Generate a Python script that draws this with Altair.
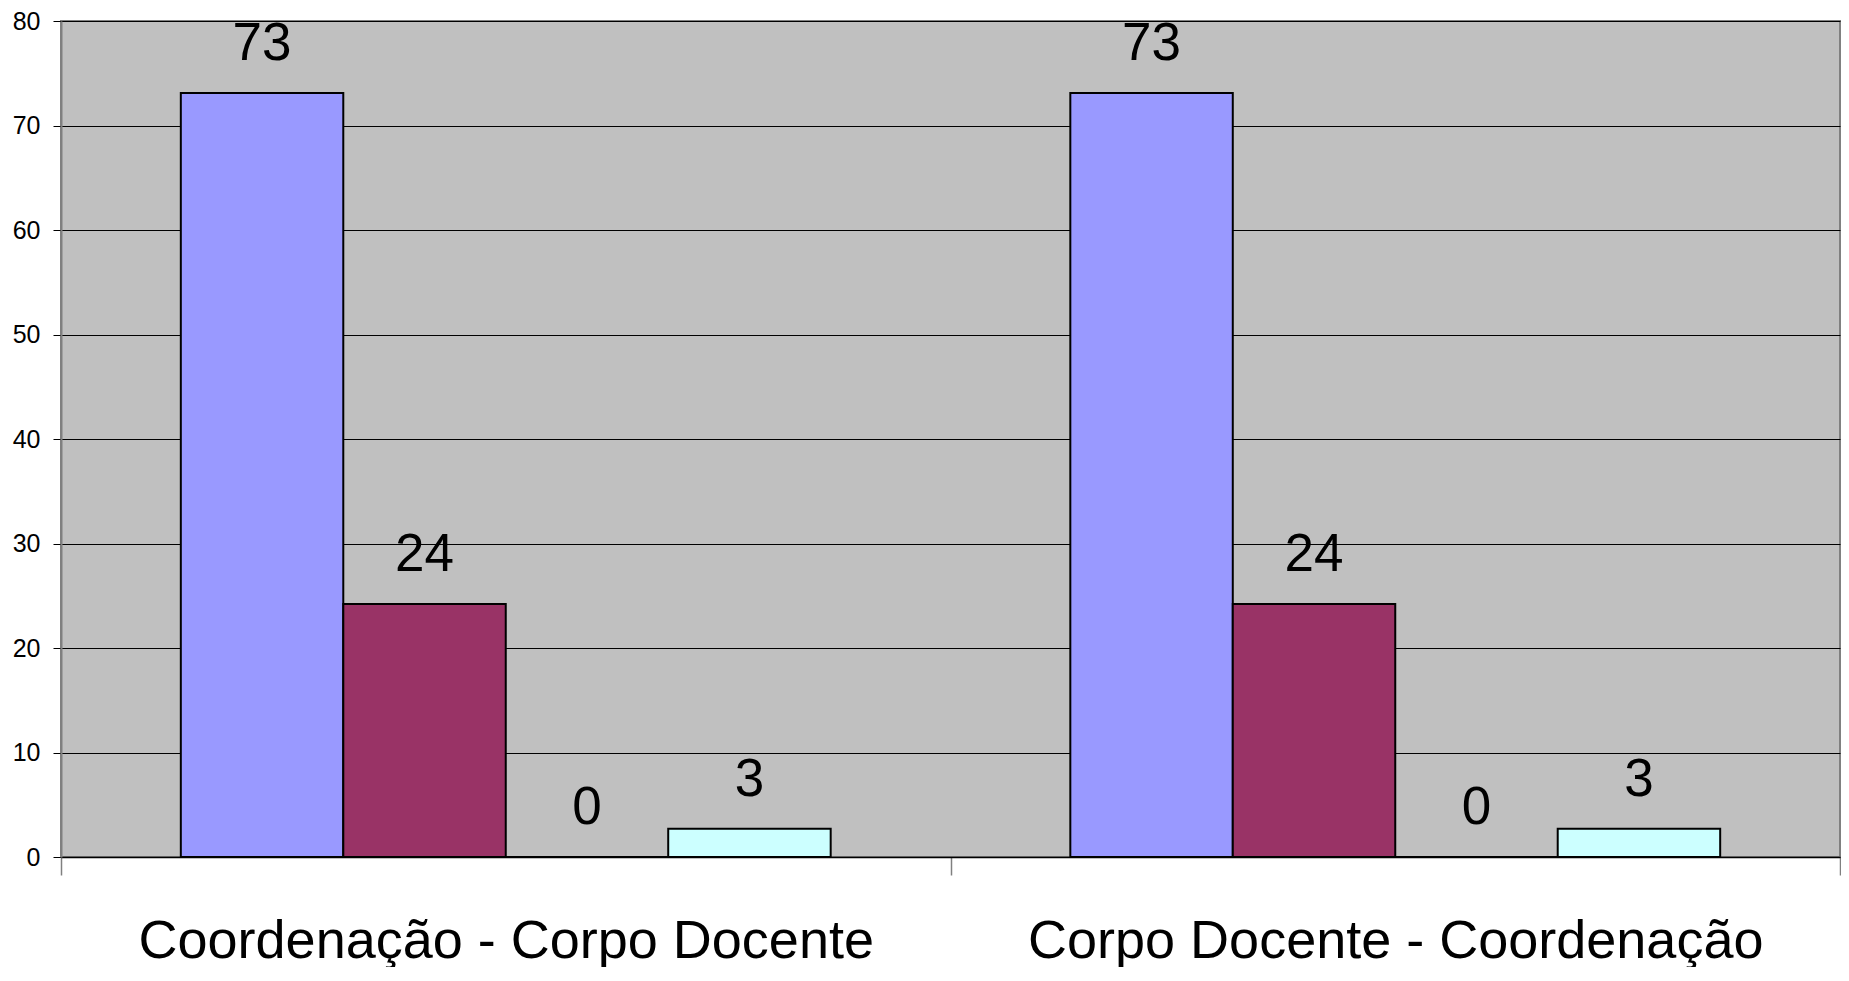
import altair as alt
import pandas as pd

categories = ["Coordenação - Corpo Docente", "Corpo Docente - Coordenação"]
series = ["Série 1", "Série 2", "Série 3", "Série 4"]
values_group1 = [73.1, 24.2, 0.0, 2.7]
values_group2 = [73.1, 24.2, 0.0, 2.7]
colors = ["#9999FF", "#993366", "#FFFFCC", "#CCFFFF"]

rows = []
for cat, vals in zip(categories, [values_group1, values_group2]):
    for s, v in zip(series, vals):
        rows.append({"categoria": cat, "serie": s, "valor": v})
df = pd.DataFrame(rows)

FONT = "Liberation Sans"

x = alt.X(
    "categoria:N",
    sort=categories,
    scale=alt.Scale(paddingInner=0, paddingOuter=0),
    axis=alt.Axis(
        title=None,
        labelAngle=0,
        labelFontSize=54,
        labelFont=FONT,
        labelColor="black",
        labelBaseline="alphabetic",
        labelPadding=82,
        labelLimit=0,
        tickBand="extent",
        tickSize=18,
        tickColor="#808080",
        tickWidth=1.5,
        domainColor="black",
        domainWidth=1.5,
        grid=False,
    ),
)
xo = alt.XOffset(
    "serie:N",
    sort=series,
    scale=alt.Scale(paddingInner=0, paddingOuter=0.7375),
)
y = alt.Y(
    "valor:Q",
    scale=alt.Scale(domain=[0, 80], nice=False),
    axis=alt.Axis(
        title=None,
        values=[0, 10, 20, 30, 40, 50, 60, 70, 80],
        labelFontSize=25,
        labelFont=FONT,
        labelColor="black",
        labelPadding=13,
        tickSize=8,
        tickColor="black",
        domainColor="#808080",
        domainWidth=2,
        grid=True,
        gridColor="black",
        gridWidth=1,
        gridOpacity=1,
    ),
)

bars = alt.Chart(df).mark_bar(stroke="black", strokeWidth=2).encode(
    x=x,
    xOffset=xo,
    y=y,
    color=alt.Color("serie:N", sort=series,
                    scale=alt.Scale(domain=series, range=colors), legend=None),
)

labels = alt.Chart(df).mark_text(
    baseline="alphabetic", dy=-33, fontSize=53, font=FONT, color="black"
).encode(
    x=alt.X("categoria:N", sort=categories),
    xOffset=alt.XOffset("serie:N", sort=series),
    y=alt.Y("valor:Q"),
    text=alt.Text("valor:Q", format=".0f"),
)

chart = alt.layer(bars, labels).properties(
    width=1779,
    height=836,
    autosize=alt.AutoSizeParams(type="none"),
    padding={"left": 53, "top": 13, "right": 1, "bottom": 110},
    background="white",
).configure_view(
    fill="#C0C0C0", stroke="#808080", strokeWidth=2
)

chart.save("out.html", embed_options={"renderer": "svg", "actions": False})
